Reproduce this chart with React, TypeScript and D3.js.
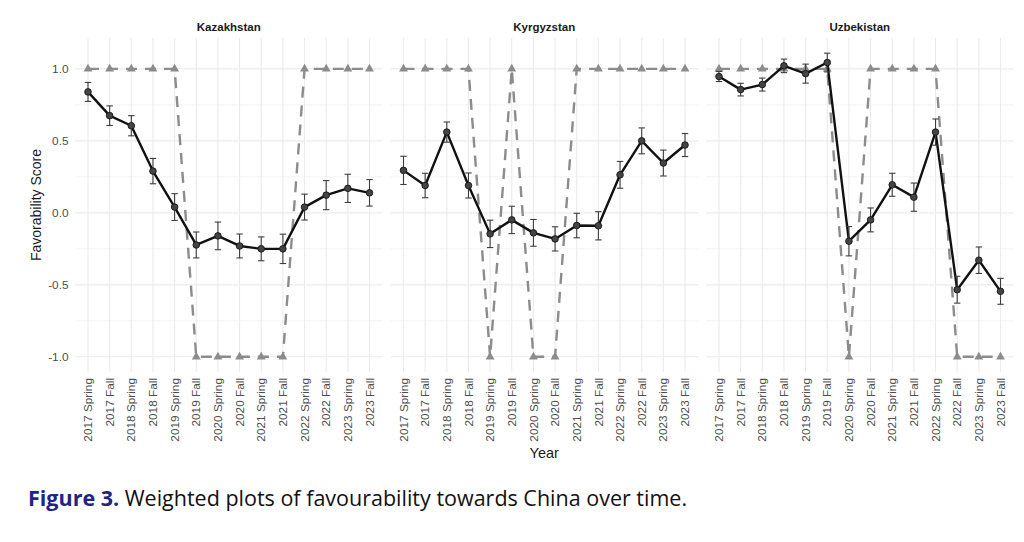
import * as d3 from "d3";
import { useEffect, useRef } from "react";

const waves = [
  "2017 Spring", "2017 Fall", "2018 Spring", "2018 Fall", "2019 Spring", "2019 Fall", "2020 Spring",
  "2020 Fall", "2021 Spring", "2021 Fall", "2022 Spring", "2022 Fall", "2023 Spring", "2023 Fall",
];

const countries = ["Kazakhstan", "Kyrgyzstan", "Uzbekistan"];

// weighted favourability score per wave
const kazakhstanScore = [0.84, 0.675, 0.605, 0.29, 0.04, -0.223, -0.16, -0.23, -0.25, -0.25, 0.04, 0.123, 0.17, 0.139];
const kyrgyzstanScore = [0.295, 0.19, 0.561, 0.19, -0.146, -0.049, -0.139, -0.181, -0.088, -0.09, 0.264, 0.5, 0.346, 0.471];
const uzbekistanScore = [0.947, 0.856, 0.891, 1.021, 0.967, 1.044, -0.197, -0.049, 0.195, 0.109, 0.561, -0.534, -0.329, -0.545];

// half width of the error bars
const kazakhstanError = [0.066, 0.068, 0.07, 0.088, 0.093, 0.09, 0.096, 0.083, 0.083, 0.102, 0.09, 0.101, 0.098, 0.092];
const kyrgyzstanError = [0.098, 0.085, 0.07, 0.087, 0.095, 0.095, 0.093, 0.084, 0.085, 0.098, 0.093, 0.09, 0.09, 0.08];
const uzbekistanError = [0.035, 0.044, 0.045, 0.047, 0.066, 0.065, 0.102, 0.083, 0.08, 0.098, 0.091, 0.093, 0.092, 0.09];

// dashed reference series (+1 / -1)
const kazakhstanDirection = [1, 1, 1, 1, 1, -1, -1, -1, -1, -1, 1, 1, 1, 1];
const kyrgyzstanDirection = [1, 1, 1, 1, -1, 1, -1, -1, 1, 1, 1, 1, 1, 1];
const uzbekistanDirection = [1, 1, 1, 1, 1, 1, -1, 1, 1, 1, 1, -1, -1, -1];

const yTicks = [-1, -0.5, 0, 0.5, 1];
const yMinorTicks = [-0.75, -0.25, 0.25, 0.75];

const scores = [kazakhstanScore, kyrgyzstanScore, uzbekistanScore];
const errors = [kazakhstanError, kyrgyzstanError, uzbekistanError];
const directions = [kazakhstanDirection, kyrgyzstanDirection, uzbekistanDirection];

const App = () => {
  const svgRef = useRef<SVGSVGElement | null>(null);

  useEffect(() => {
    if (!svgRef.current) return;

    const width = 1024;
    const height = 542;
    const panelTop = 38;
    const panelBottom = 372;
    const panelWidth = 307.5;
    const panelLefts = [75, 390.5, 706];
    const font = "Liberation Sans, Arial, sans-serif";

    // y domain like ggplot: data range + 5% each side
    const lows = scores.flatMap((s, i) => s.map((v, j) => v - errors[i][j]));
    const highs = scores.flatMap((s, i) => s.map((v, j) => v + errors[i][j]));
    const yMin = Math.min(-1, d3.min(lows) ?? -1);
    const yMax = Math.max(1, d3.max(highs) ?? 1);
    const pad = (yMax - yMin) * 0.05;
    const yScale = d3.scaleLinear().domain([yMin - pad, yMax + pad]).range([panelBottom, panelTop]);

    const svg = d3.select(svgRef.current);
    svg.selectAll("*").remove();
    svg.attr("viewBox", `0 0 ${width} ${height}`);

    svg.append("rect").attr("width", width).attr("height", height).attr("fill", "#fff");

    const triangle = d3.symbol().type(d3.symbolTriangle).size(34);

    countries.forEach((country, ci) => {
      const x0 = panelLefts[ci];
      const xScale = d3.scalePoint<string>().domain(waves).range([x0, x0 + panelWidth]).padding(0.6);
      const g = svg.append("g");

      // grid
      g.selectAll(".minor")
        .data(yMinorTicks)
        .join("line")
        .attr("x1", x0)
        .attr("x2", x0 + panelWidth)
        .attr("y1", (d) => yScale(d))
        .attr("y2", (d) => yScale(d))
        .attr("stroke", "#ebebeb")
        .attr("stroke-width", 0.6);
      g.selectAll(".major")
        .data(yTicks)
        .join("line")
        .attr("x1", x0)
        .attr("x2", x0 + panelWidth)
        .attr("y1", (d) => yScale(d))
        .attr("y2", (d) => yScale(d))
        .attr("stroke", "#ebebeb")
        .attr("stroke-width", 1.1);
      g.selectAll(".vgrid")
        .data(waves)
        .join("line")
        .attr("x1", (d) => xScale(d)!)
        .attr("x2", (d) => xScale(d)!)
        .attr("y1", panelTop)
        .attr("y2", panelBottom)
        .attr("stroke", "#ebebeb")
        .attr("stroke-width", 1.1);

      // strip title
      svg.append("text")
        .attr("x", x0 + panelWidth / 2)
        .attr("y", 31)
        .attr("text-anchor", "middle")
        .attr("font-family", font)
        .attr("font-size", 11.5)
        .attr("font-weight", "bold")
        .attr("fill", "#1a1a1a")
        .text(country);

      // x tick labels
      g.selectAll(".xlab")
        .data(waves)
        .join("text")
        .attr("transform", (d) => `translate(${xScale(d)},378) rotate(-90)`)
        .attr("dy", "0.35em")
        .attr("text-anchor", "end")
        .attr("font-family", font)
        .attr("font-size", 11.8)
        .attr("fill", "#4d4d4d")
        .text((d) => d);

      const dir = directions[ci];
      const score = scores[ci];
      const err = errors[ci];

      // dashed direction line with triangles
      const dirLine = d3
        .line<number>()
        .x((_, i) => xScale(waves[i])!)
        .y((d) => yScale(d));
      g.append("path")
        .datum(dir)
        .attr("d", dirLine)
        .attr("fill", "none")
        .attr("stroke", "#8c8c8c")
        .attr("stroke-width", 2.4)
        .attr("stroke-dasharray", "11 8");
      g.selectAll(".tri")
        .data(dir)
        .join("path")
        .attr("d", triangle)
        .attr("transform", (d, i) => `translate(${xScale(waves[i])},${yScale(d)})`)
        .attr("fill", "#8c8c8c");

      // score line
      g.append("path")
        .datum(score)
        .attr("d", dirLine)
        .attr("fill", "none")
        .attr("stroke", "#111")
        .attr("stroke-width", 2.4)
        .attr("stroke-linejoin", "round");

      // error bars
      const capHalf = 3.2;
      const bars = g.selectAll(".err").data(score).join("g").attr("stroke", "#3d3d3d").attr("stroke-width", 1.1);
      bars.append("line")
        .attr("x1", (_, i) => xScale(waves[i])!)
        .attr("x2", (_, i) => xScale(waves[i])!)
        .attr("y1", (d, i) => yScale(d - err[i]))
        .attr("y2", (d, i) => yScale(d + err[i]));
      bars.append("line")
        .attr("x1", (_, i) => xScale(waves[i])! - capHalf)
        .attr("x2", (_, i) => xScale(waves[i])! + capHalf)
        .attr("y1", (d, i) => yScale(d - err[i]))
        .attr("y2", (d, i) => yScale(d - err[i]));
      bars.append("line")
        .attr("x1", (_, i) => xScale(waves[i])! - capHalf)
        .attr("x2", (_, i) => xScale(waves[i])! + capHalf)
        .attr("y1", (d, i) => yScale(d + err[i]))
        .attr("y2", (d, i) => yScale(d + err[i]));

      // points
      g.selectAll(".pt")
        .data(score)
        .join("circle")
        .attr("cx", (_, i) => xScale(waves[i])!)
        .attr("cy", (d) => yScale(d))
        .attr("r", 3.3)
        .attr("fill", "#444")
        .attr("stroke", "#151515")
        .attr("stroke-width", 0.9);
    });

    // y axis labels (left panel only), plain hyphen for the minus sign
    svg.append("g")
      .selectAll("text")
      .data(yTicks)
      .join("text")
      .attr("x", 68.5)
      .attr("y", (d) => yScale(d))
      .attr("dy", "0.35em")
      .attr("text-anchor", "end")
      .attr("font-family", font)
      .attr("font-size", 11.8)
      .attr("fill", "#4d4d4d")
      .text((d) => d.toFixed(1));

    svg.append("text")
      .attr("transform", `translate(41,${(panelTop + panelBottom) / 2}) rotate(-90)`)
      .attr("text-anchor", "middle")
      .attr("font-family", font)
      .attr("font-size", 14)
      .attr("fill", "#1a1a1a")
      .text("Favorability Score");

    svg.append("text")
      .attr("x", (panelLefts[0] + panelLefts[2] + panelWidth) / 2)
      .attr("y", 458)
      .attr("text-anchor", "middle")
      .attr("font-family", font)
      .attr("font-size", 14.5)
      .attr("fill", "#1a1a1a")
      .text("Year");

    // caption
    const caption = svg.append("text")
      .attr("x", 28)
      .attr("y", 506)
      .attr("font-family", "Open Sans, Noto Sans, sans-serif")
      .attr("font-size", 21.5)
      .attr("fill", "#111");
    caption.append("tspan").attr("fill", "#1f2487").attr("font-weight", "bold").text("Figure 3.");
    caption.append("tspan").text(" Weighted plots of favourability towards China over time.");
  }, []);

  return (
    <svg
      ref={svgRef}
      width={1024}
      height={542}
      style={{ position: "absolute", left: 0, top: 0, display: "block" }}
    ></svg>
  );
};

export default App;
